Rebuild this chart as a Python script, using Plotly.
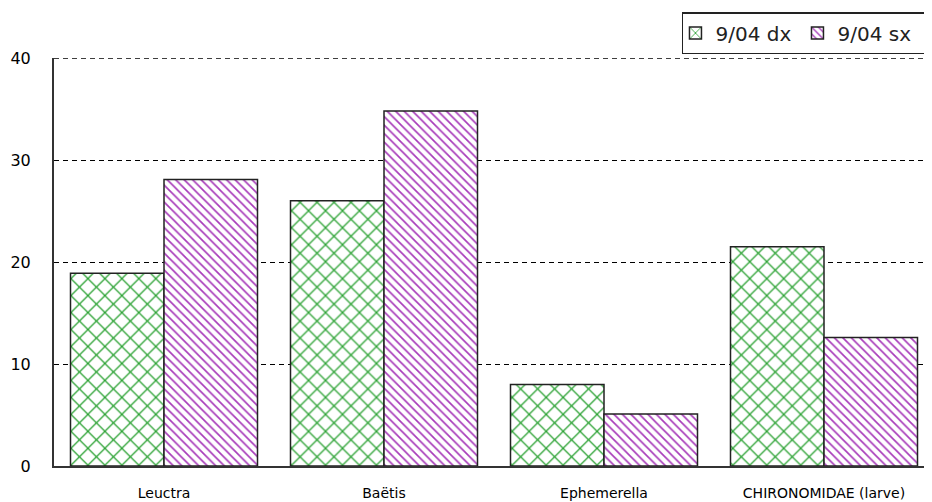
import plotly.graph_objects as go

categories = ["Leuctra", "Baëtis", "Ephemerella", "CHIRONOMIDAE (larve)"]
dx_values = [18.9, 26.0, 8.0, 21.5]
sx_values = [28.1, 34.8, 5.1, 12.6]
y_ticks = [0, 10, 20, 30, 40]

fig = go.Figure()
fig.add_trace(go.Bar(
    name="9/04 dx", x=categories, y=dx_values,
    marker=dict(color="white", line=dict(color="#222222", width=1.5),
                pattern=dict(shape="x", fgcolor="#2ea336", bgcolor="white", fgopacity=1,
                             size=12, solidity=0.2, fillmode="overlay")),
))
fig.add_trace(go.Bar(
    name="9/04 sx", x=categories, y=sx_values,
    marker=dict(color="white", line=dict(color="#222222", width=1.5),
                pattern=dict(shape="\\", fgcolor="#a83cba", bgcolor="white", fgopacity=1,
                             size=6, solidity=0.28, fillmode="overlay")),
))

# gridline at the top value (plotly omits the grid line at the range edge)
fig.add_shape(type="line", xref="paper", yref="y", x0=0, x1=1, y0=y_ticks[-1], y1=y_ticks[-1],
              line=dict(color="black", width=1.5, dash="5px,4px"), layer="below")

fig.update_layout(
    width=926, height=494,
    margin=dict(l=46, r=0, t=50, b=36, autoexpand=False),
    paper_bgcolor="white", plot_bgcolor="white",
    barmode="group", bargap=0.15, bargroupgap=0,
    font=dict(family="DejaVu Sans, Arial, sans-serif", color="black", size=13),
    showlegend=True,
    legend=dict(orientation="h", x=0.7136, xanchor="left", y=1.1127, yanchor="top",
                bordercolor="#222222", borderwidth=1.5, bgcolor="white",
                font=dict(size=20, color="#222222"),
                itemwidth=30, entrywidth=85, entrywidthmode="pixels",
                tracegroupgap=0, itemclick=False, indentation=-8),
    xaxis=dict(range=[-0.5, 3.5], showline=True, linecolor="#333333", linewidth=2,
               showgrid=False, ticks="", tickfont=dict(size=14), ticklabelstandoff=13),
    yaxis=dict(range=[0, 40], tickvals=y_ticks, showline=True, linecolor="#333333",
               linewidth=2, showgrid=True, gridcolor="black", griddash="5px,4px",
               gridwidth=1, zeroline=False, ticks="", tickfont=dict(size=16),
               ticklabelstandoff=18),
)

fig.write_html("out.html")
